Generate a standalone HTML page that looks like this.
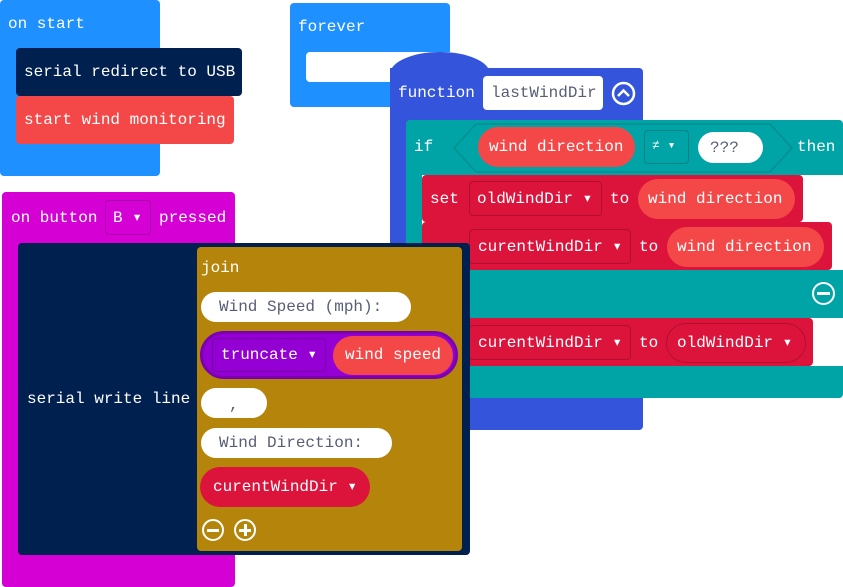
<!DOCTYPE html>
<html><head><style>
body{margin:0;width:843px;height:587px;position:relative;background:#fff;overflow:hidden;font-family:"Liberation Mono",monospace;font-size:16px;color:#fff}
div{position:absolute;box-sizing:border-box}
.t{white-space:pre;line-height:1}
.pill{border-radius:20px}
.str{background:#fff;color:#575e75;border-radius:16px}
.dd{border:1px solid rgba(0,0,0,.2);border-radius:4px}
.circ{border:2.5px solid #fff;border-radius:50%}
</style></head><body>

<!-- on start -->
<div style="left:0;top:0;width:160px;height:176px;background:#1e90ff;border-radius:4px"></div>
<div class="t" style="left:8px;top:16px">on start</div>
<div style="left:16px;top:48px;width:226px;height:48px;background:#002050;border-radius:4px"></div>
<div class="t" style="left:24px;top:64px">serial redirect to USB</div>
<div style="left:16px;top:96px;width:218px;height:48px;background:#f44848;border-radius:4px"></div>
<div class="t" style="left:24px;top:112px">start wind monitoring</div>

<!-- forever -->
<div style="left:290px;top:3px;width:160px;height:104px;background:#1e90ff;border-radius:4px"></div>
<div class="t" style="left:298px;top:19px">forever</div>
<div style="left:306px;top:52px;width:150px;height:30px;background:#fff;border-radius:4px"></div>

<!-- function -->
<div style="left:390px;top:52px;width:100px;height:50px;background:#3455db;border-radius:50px 50px 0 0/22px 22px 0 0"></div>
<div style="left:390px;top:68px;width:253px;height:52px;background:#3455db;border-radius:0 4px 0 0"></div>
<div style="left:390px;top:110px;width:20px;height:320px;background:#3455db"></div>
<div style="left:390px;top:398px;width:253px;height:32px;background:#3455db;border-radius:0 0 4px 4px"></div>
<div class="t" style="left:398px;top:85px">function</div>
<div style="left:483px;top:76px;width:120px;height:34px;background:#fff;border-radius:4px"></div>
<div class="t" style="left:491px;top:85px;color:#575e75">lastWindDir</div>
<svg style="position:absolute;left:611px;top:81px" width="25" height="25"><circle cx="12.5" cy="12.5" r="10.5" fill="none" stroke="#fff" stroke-width="2.5"/><polyline points="7,15 12.5,9.5 18,15" fill="none" stroke="#fff" stroke-width="2.5"/></svg>

<!-- if -->
<div style="left:406px;top:120px;width:437px;height:55px;background:#00a4a6;border-radius:4px 4px 0 0"></div>
<div style="left:406px;top:170px;width:16px;height:228px;background:#00a4a6"></div>
<div style="left:406px;top:270px;width:437px;height:48px;background:#00a4a6"></div>
<div style="left:406px;top:366px;width:437px;height:32px;background:#00a4a6;border-radius:0 0 4px 4px"></div>
<div class="t" style="left:414px;top:139px">if</div>
<svg style="position:absolute;left:452px;top:122px" width="345" height="52"><polygon points="2,26 24,2 318,2 340,26 318,50 24,50" fill="#00a4a6" stroke="#008f91" stroke-width="1.5"/></svg>
<div class="pill" style="left:478px;top:127px;width:157px;height:40px;background:#f44848"></div>
<div class="t" style="left:489px;top:139px">wind direction</div>
<div class="dd" style="left:644px;top:130px;width:45px;height:34px"></div>
<div class="t" style="left:652px;top:139px;font-size:13px">≠ ▾</div>
<div class="str" style="left:698px;top:132px;width:65px;height:31px"></div>
<div class="t" style="left:710px;top:140px;color:#575e75">???</div>
<div class="t" style="left:797px;top:139px">then</div>

<div style="left:422px;top:175px;width:381px;height:47px;background:#dc143c;border-radius:4px"></div>
<div class="t" style="left:430px;top:191px">set</div>
<div class="dd" style="left:469px;top:181px;width:133px;height:35px"></div>
<div class="t" style="left:477px;top:191px">oldWindDir ▾</div>
<div class="t" style="left:610px;top:191px">to</div>
<div class="pill" style="left:638px;top:179px;width:157px;height:40px;background:#f44848"></div>
<div class="t" style="left:648px;top:191px">wind direction</div>

<div style="left:422px;top:222px;width:410px;height:48px;background:#dc143c;border-radius:4px"></div>
<div class="dd" style="left:469px;top:229px;width:162px;height:35px"></div>
<div class="t" style="left:478px;top:239px">curentWindDir ▾</div>
<div class="t" style="left:639px;top:239px">to</div>
<div class="pill" style="left:667px;top:227px;width:157px;height:40px;background:#f44848"></div>
<div class="t" style="left:677px;top:239px">wind direction</div>

<div class="circ" style="left:812px;top:282px;width:23px;height:23px"></div>
<div style="left:817px;top:292px;width:13px;height:3px;background:#fff"></div>

<div style="left:422px;top:318px;width:391px;height:48px;background:#dc143c;border-radius:4px"></div>
<div class="dd" style="left:469px;top:325px;width:162px;height:35px"></div>
<div class="t" style="left:478px;top:335px">curentWindDir ▾</div>
<div class="t" style="left:639px;top:335px">to</div>
<div class="pill" style="left:666px;top:323px;width:140px;height:40px;border:1px solid rgba(0,0,0,.2)"></div>
<div class="t" style="left:677px;top:335px">oldWindDir ▾</div>

<!-- on button -->
<div style="left:2px;top:192px;width:233px;height:395px;background:#d400d4;border-radius:4px"></div>
<div class="t" style="left:11px;top:210px">on button</div>
<div class="dd" style="left:105px;top:200px;width:46px;height:35px"></div>
<div class="t" style="left:113px;top:210px">B ▾</div>
<div class="t" style="left:159px;top:210px">pressed</div>

<div style="left:18px;top:243px;width:452px;height:312px;background:#002050;border-radius:4px"></div>
<div class="t" style="left:27px;top:391px">serial write line</div>
<div style="left:197px;top:247px;width:265px;height:304px;background:#b5850b;border-radius:4px"></div>
<div class="t" style="left:201px;top:260px">join</div>
<div class="str" style="left:201px;top:292px;width:210px;height:30px"></div>
<div class="t" style="left:219px;top:299px;color:#575e75">Wind Speed (mph): </div>
<div class="pill" style="left:200px;top:331px;width:258px;height:48px;background:#9400d3;border:3px solid #7a00b0;border-radius:24px"></div>
<div class="dd" style="left:212px;top:338px;width:114px;height:34px"></div>
<div class="t" style="left:221px;top:347px">truncate ▾</div>
<div class="pill" style="left:333px;top:336px;width:120px;height:39px;background:#f44848"></div>
<div class="t" style="left:345px;top:347px">wind speed</div>
<div class="str" style="left:201px;top:388px;width:66px;height:30px"></div>
<div class="t" style="left:229px;top:397px;color:#575e75">,</div>
<div class="str" style="left:201px;top:428px;width:191px;height:30px"></div>
<div class="t" style="left:219px;top:435px;color:#575e75">Wind Direction: </div>
<div class="pill" style="left:200px;top:467px;width:170px;height:40px;background:#dc143c"></div>
<div class="t" style="left:213px;top:479px">curentWindDir ▾</div>
<div class="circ" style="left:202px;top:519px;width:22px;height:22px"></div>
<div style="left:207px;top:529px;width:12px;height:3px;background:#fff"></div>
<div class="circ" style="left:234px;top:519px;width:22px;height:22px"></div>
<div style="left:239px;top:529px;width:12px;height:3px;background:#fff"></div>
<div style="left:244px;top:524px;width:3px;height:12px;background:#fff"></div>
</body></html>
